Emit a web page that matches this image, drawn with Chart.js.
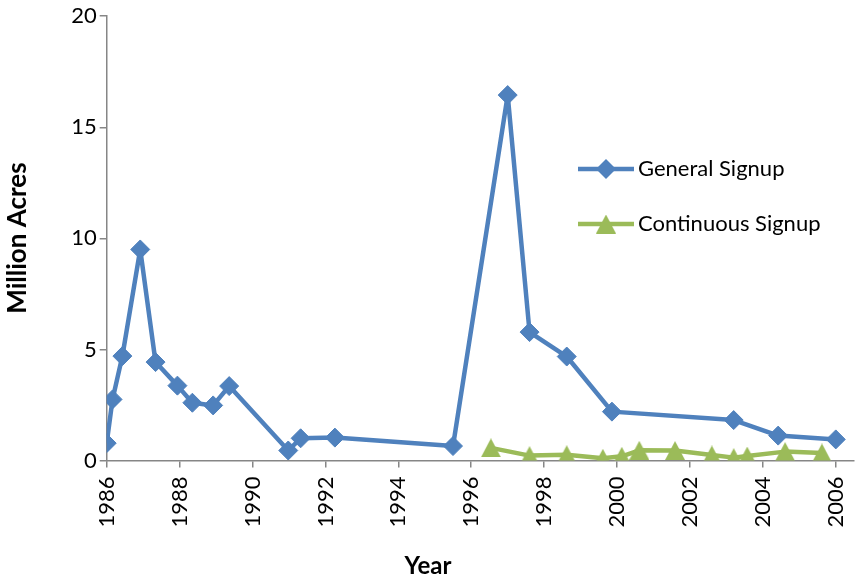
<!DOCTYPE html>
<html>
<head>
<meta charset="utf-8">
<script src="https://cdn.jsdelivr.net/npm/chart.js@4.4.1/dist/chart.umd.min.js"></script>
<style>
  html, body { margin: 0; padding: 0; background: #ffffff; }
  #wrap { width: 856px; height: 581px; position: relative; }
</style>
</head>
<body>
<div id="wrap"><canvas id="chart"></canvas></div>
<script>
// Conservation Reserve Program enrollment by signup (million acres)
const generalYears = [1986.0, 1986.16, 1986.43, 1986.92, 1987.34, 1987.94, 1988.35, 1988.92, 1989.36,
                      1990.98, 1991.32, 1992.26, 1995.5, 1997.0, 1997.6, 1998.62, 1999.86, 2003.2, 2004.42, 2006.0];
const generalAcres = [0.78, 2.75, 4.7, 9.5, 4.43, 3.37, 2.6, 2.48, 3.35,
                      0.45, 1.0, 1.03, 0.65, 16.45, 5.78, 4.68, 2.2, 1.82, 1.12, 0.95];

const continuousYears = [1996.54, 1997.6, 1998.62, 1999.61, 2000.13, 2000.61, 2001.59, 2002.6, 2003.2, 2003.57, 2004.61, 2005.62];
const continuousAcres = [0.57, 0.22, 0.26, 0.1, 0.19, 0.46, 0.45, 0.25, 0.13, 0.2, 0.4, 0.34];

const yearTicks = [1986, 1988, 1990, 1992, 1994, 1996, 1998, 2000, 2002, 2004, 2006];
const acreTicks = [0, 5, 10, 15, 20];

const seriesNames = ['General Signup', 'Continuous Signup'];
const xTitle = 'Year';
const yTitle = 'Million Acres';

const BLUE = '#4F81BD';
const GREEN = '#9BBB59';
const AXIS = '#868686';
const FONT = 'Lato, "Open Sans", sans-serif';

// Triangle marker whose bounding box is centred on the data point
function makeTriangle(w, h, color) {
  const c = document.createElement('canvas');
  c.width = w; c.height = h;
  const g = c.getContext('2d');
  g.fillStyle = color;
  g.beginPath();
  g.moveTo(w / 2, 0);
  g.lineTo(w, h);
  g.lineTo(0, h);
  g.closePath();
  g.fill();
  return c;
}
const triangle = makeTriangle(20, 19, GREEN);

const pairs = (xs, ys) => xs.map((x, i) => ({ x, y: ys[i] }));

// In-plot legend and axis titles
const decorations = {
  id: 'decorations',
  afterDatasetsDraw(chart) {
    const ctx = chart.ctx;
    ctx.save();
    // legend
    const rows = [
      { y: 169, color: BLUE, marker: 'diamond' },
      { y: 224, color: GREEN, marker: 'triangle' }
    ];
    rows.forEach((r, i) => {
      ctx.strokeStyle = r.color;
      ctx.lineWidth = 4.5;
      ctx.beginPath();
      ctx.moveTo(578, r.y);
      ctx.lineTo(634, r.y);
      ctx.stroke();
      ctx.fillStyle = r.color;
      if (r.marker === 'diamond') {
        ctx.beginPath();
        ctx.moveTo(606, r.y - 10);
        ctx.lineTo(616, r.y);
        ctx.lineTo(606, r.y + 10);
        ctx.lineTo(596, r.y);
        ctx.closePath();
        ctx.fill();
      } else {
        ctx.drawImage(triangle, 606 - triangle.width / 2, r.y - triangle.height / 2);
      }
      ctx.fillStyle = '#000';
      ctx.font = '22px ' + FONT;
      ctx.textAlign = 'left';
      ctx.textBaseline = 'middle';
      ctx.fillText(seriesNames[i], 638, r.y);
    });
    // axis titles
    ctx.fillStyle = '#000';
    ctx.textAlign = 'center';
    ctx.textBaseline = 'middle';
    ctx.font = 'bold 24px ' + FONT;
    ctx.fillText(xTitle, 428, 566);
    ctx.font = 'bold 26px ' + FONT;
    ctx.translate(18, 238);
    ctx.rotate(-Math.PI / 2);
    ctx.fillText(yTitle, 0, 0);
    ctx.restore();
  }
};

new Chart(document.getElementById('chart'), {
  type: 'line',
  data: {
    datasets: [
      {
        label: seriesNames[0],
        data: pairs(generalYears, generalAcres),
        borderColor: BLUE,
        backgroundColor: BLUE,
        borderWidth: 4.5,
        borderJoinStyle: 'round',
        pointStyle: 'rectRot',
        pointRadius: 9.5,
        pointBorderWidth: 1,
        pointBackgroundColor: BLUE,
        pointBorderColor: BLUE,
        tension: 0
      },
      {
        label: seriesNames[1],
        data: pairs(continuousYears, continuousAcres),
        borderColor: GREEN,
        backgroundColor: GREEN,
        borderWidth: 4.5,
        borderJoinStyle: 'round',
        pointStyle: triangle,
        pointRadius: 10,
        tension: 0
      }
    ]
  },
  options: {
    responsive: true,
    maintainAspectRatio: false,
    animation: false,
    events: [],
    layout: { autoPadding: false, padding: { top: 16, right: 2, left: 0, bottom: 0 } },
    plugins: {
      legend: { display: false },
      tooltip: { enabled: false }
    },
    scales: {
      x: {
        type: 'linear',
        min: 1986,
        max: 2006.5,
        afterBuildTicks: s => { s.ticks = yearTicks.map(v => ({ value: v })); },
        afterFit: s => { s.height = 120.5; },
        ticks: {
          autoSkip: false,
          minRotation: 90,
          maxRotation: 90,
          padding: 9,
          color: '#000',
          font: { family: FONT, size: 22, lineHeight: 0.1 },
          callback: v => String(v)
        },
        grid: { drawOnChartArea: false, color: AXIS, tickLength: 7, lineWidth: 1.5 },
        border: { color: AXIS, width: 1.5 }
      },
      y: {
        min: 0,
        max: 20,
        afterBuildTicks: s => { s.ticks = acreTicks.map(v => ({ value: v })); },
        afterFit: s => { s.width = 106.7; },
        ticks: {
          padding: 3,
          color: '#000',
          font: { family: FONT, size: 22 },
          callback: v => String(v)
        },
        grid: { drawOnChartArea: false, color: AXIS, tickLength: 7, lineWidth: 1.5 },
        border: { color: AXIS, width: 1.5 }
      }
    }
  },
  plugins: [decorations]
});
</script>
</body>
</html>
